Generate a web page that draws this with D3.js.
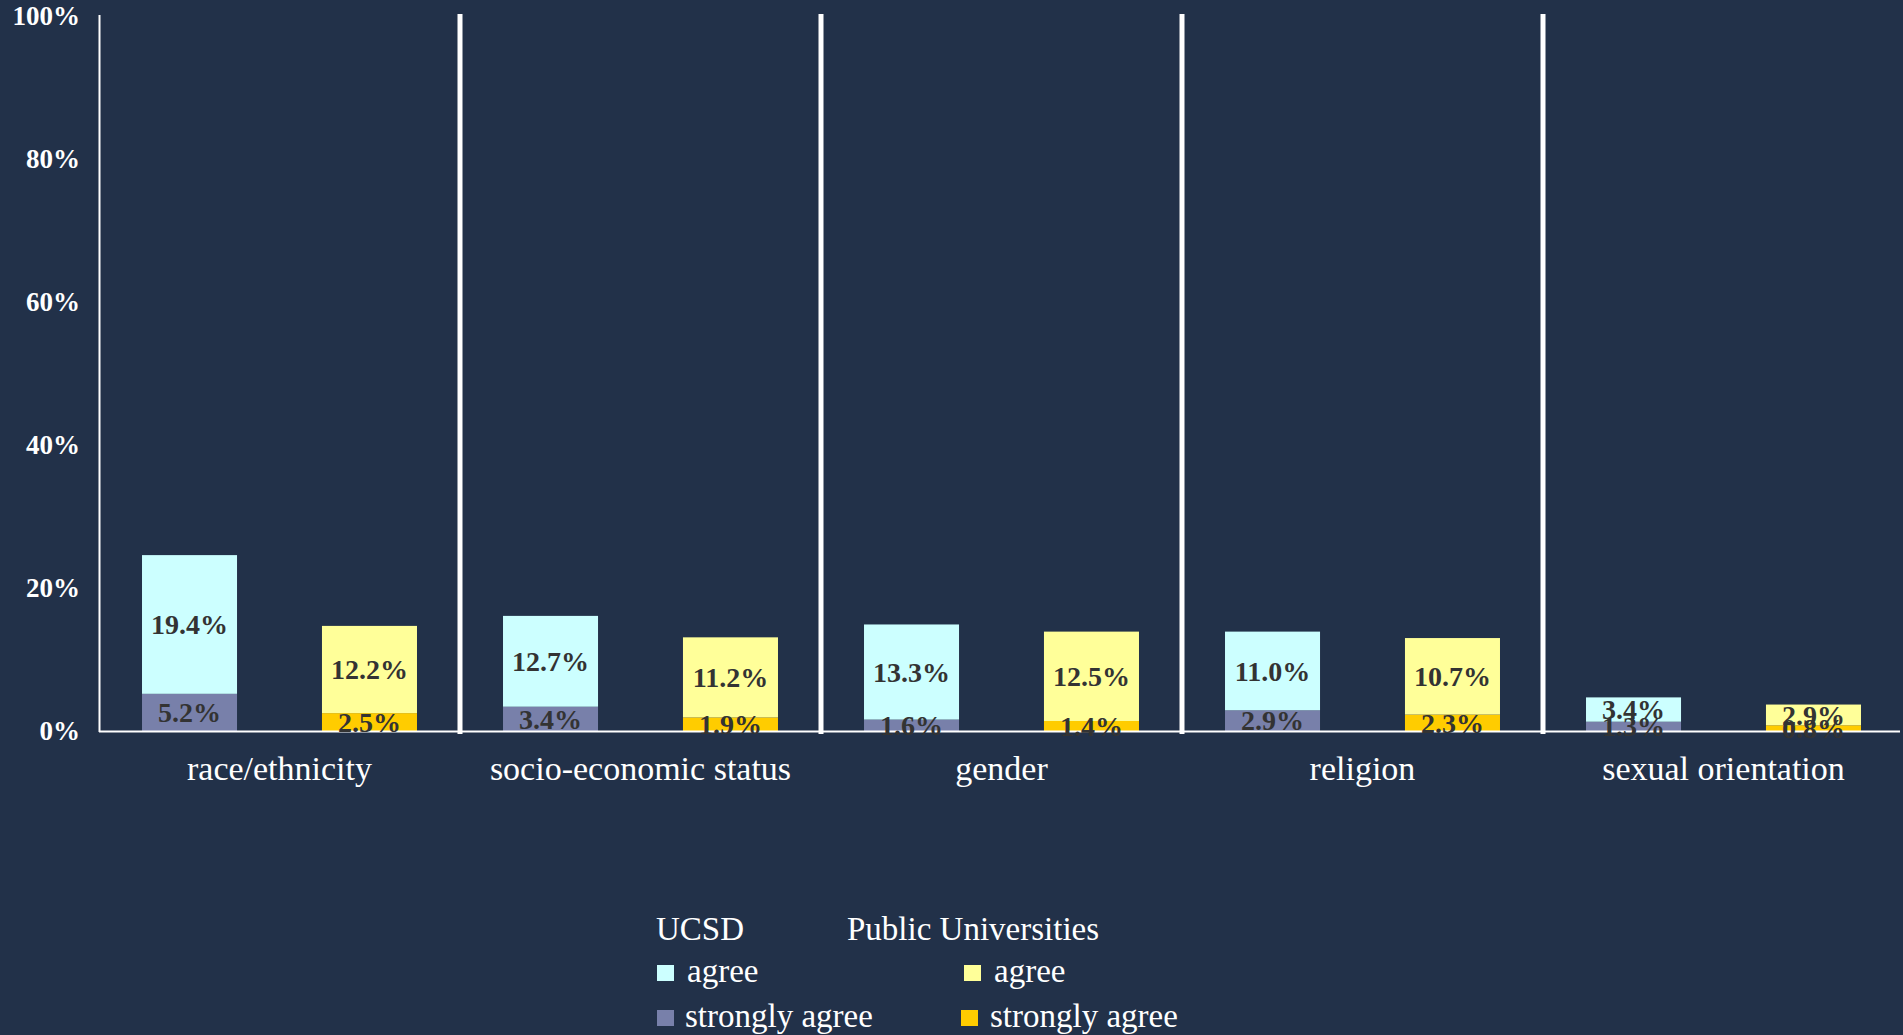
<!DOCTYPE html>
<html>
<head>
<meta charset="utf-8">
<script src="https://cdn.jsdelivr.net/npm/d3@7"></script>
<style>
  html, body { margin: 0; padding: 0; background: #223149; overflow: hidden; }
  svg { display: block; }
  text { font-family: "Liberation Serif", "DejaVu Serif", serif; }
</style>
</head>
<body>
<svg id="chart" width="1903" height="1035"></svg>
<script>
// categories and values (percent)
var categories = ['race/ethnicity', 'socio-economic status', 'gender', 'religion', 'sexual orientation'];
var ucsdAgree = [19.4, 12.7, 13.3, 11.0, 3.4];
var ucsdStrong = [5.2, 3.4, 1.6, 2.9, 1.3];
var publicAgree = [12.2, 11.2, 12.5, 10.7, 2.9];
var publicStrong = [2.5, 1.9, 1.4, 2.3, 0.8];
var yTicks = [0, 20, 40, 60, 80, 100];

var colors = {
    ucsdAgree: '#ccffff',
    ucsdStrong: '#7880aa',
    publicAgree: '#ffff99',
    publicStrong: '#ffcc00'
};

var svg = d3.select('#chart');

var x = d3.scaleBand().domain(categories).range([99, 1904]).padding(0);
var sub = d3.scaleBand().domain(['ucsd', 'public'])
    .range([0, x.bandwidth()])
    .paddingInner(0.472)
    .paddingOuter(0.239);
var y = d3.scaleLinear().domain([0, 100]).range([731, 16]);

// build stacked segments: strongly agree at bottom, agree on top
var segments = [];
categories.forEach(function (c, i) {
    segments.push({cat: c, grp: 'ucsd', y0: 0, y1: ucsdStrong[i], v: ucsdStrong[i], color: colors.ucsdStrong});
    segments.push({cat: c, grp: 'ucsd', y0: ucsdStrong[i], y1: ucsdStrong[i] + ucsdAgree[i], v: ucsdAgree[i], color: colors.ucsdAgree});
    segments.push({cat: c, grp: 'public', y0: 0, y1: publicStrong[i], v: publicStrong[i], color: colors.publicStrong});
    segments.push({cat: c, grp: 'public', y0: publicStrong[i], y1: publicStrong[i] + publicAgree[i], v: publicAgree[i], color: colors.publicAgree});
});

svg.append('g').selectAll('rect')
    .data(segments)
    .enter().append('rect')
    .attr('x', function (d) { return x(d.cat) + sub(d.grp); })
    .attr('width', sub.bandwidth())
    .attr('y', function (d) { return y(d.y1); })
    .attr('height', function (d) { return y(d.y0) - y(d.y1); })
    .attr('fill', function (d) { return d.color; });

// y axis labels
svg.append('g').selectAll('text')
    .data(yTicks)
    .enter().append('text')
    .attr('x', 80)
    .attr('y', function (d) { return y(d); })
    .attr('dy', '0.35em')
    .attr('text-anchor', 'end')
    .attr('fill', '#ffffff')
    .attr('font-size', 27)
    .attr('font-weight', 'bold')
    .text(function (d) { return d + '%'; });

// axis lines
svg.append('line')
    .attr('x1', 99.5).attr('x2', 99.5)
    .attr('y1', 15).attr('y2', 732)
    .attr('stroke', '#ffffff').attr('stroke-width', 2);
svg.append('line')
    .attr('x1', 99).attr('x2', 1900)
    .attr('y1', 731.5).attr('y2', 731.5)
    .attr('stroke', '#ffffff').attr('stroke-width', 2);

// separators between categories
svg.append('g').selectAll('line')
    .data(categories.slice(1))
    .enter().append('line')
    .attr('x1', function (d) { return x(d); })
    .attr('x2', function (d) { return x(d); })
    .attr('y1', 14).attr('y2', 734)
    .attr('stroke', '#ffffff').attr('stroke-width', 5);

// data labels
svg.append('g').selectAll('text')
    .data(segments)
    .enter().append('text')
    .attr('x', function (d) { return x(d.cat) + sub(d.grp) + sub.bandwidth() / 2; })
    .attr('y', function (d) { return y((d.y0 + d.y1) / 2); })
    .attr('dy', '0.35em')
    .attr('text-anchor', 'middle')
    .attr('fill', '#333333')
    .attr('font-size', 28)
    .attr('font-weight', 'bold')
    .text(function (d) { return d.v.toFixed(1) + '%'; });

// category labels
svg.append('g').selectAll('text')
    .data(categories)
    .enter().append('text')
    .attr('x', function (d) { return x(d) + x.bandwidth() / 2; })
    .attr('y', 780)
    .attr('text-anchor', 'middle')
    .attr('fill', '#ffffff')
    .attr('font-size', 34)
    .text(function (d) { return d; });

// legend
var legendHeads = [{label: 'UCSD', x: 656}, {label: 'Public Universities', x: 847}];
var legendItems = [
    {label: 'agree', color: colors.ucsdAgree, x: 657, tx: 687, row: 0},
    {label: 'strongly agree', color: colors.ucsdStrong, x: 657, tx: 685, row: 1},
    {label: 'agree', color: colors.publicAgree, x: 964, tx: 994, row: 0},
    {label: 'strongly agree', color: colors.publicStrong, x: 961, tx: 990, row: 1}
];

var legend = svg.append('g');
legend.selectAll('text.head')
    .data(legendHeads)
    .enter().append('text')
    .attr('class', 'head')
    .attr('x', function (d) { return d.x; })
    .attr('y', 940)
    .attr('fill', '#ffffff')
    .attr('font-size', 33)
    .text(function (d) { return d.label; });

legend.selectAll('rect')
    .data(legendItems)
    .enter().append('rect')
    .attr('x', function (d) { return d.x; })
    .attr('y', function (d) { return 965 + d.row * 45; })
    .attr('width', 17).attr('height', 16)
    .attr('fill', function (d) { return d.color; });

legend.selectAll('text.item')
    .data(legendItems)
    .enter().append('text')
    .attr('class', 'item')
    .attr('x', function (d) { return d.tx; })
    .attr('y', function (d) { return 982 + d.row * 45; })
    .attr('fill', '#ffffff')
    .attr('font-size', 33)
    .text(function (d) { return d.label; });
</script>
</body>
</html>
